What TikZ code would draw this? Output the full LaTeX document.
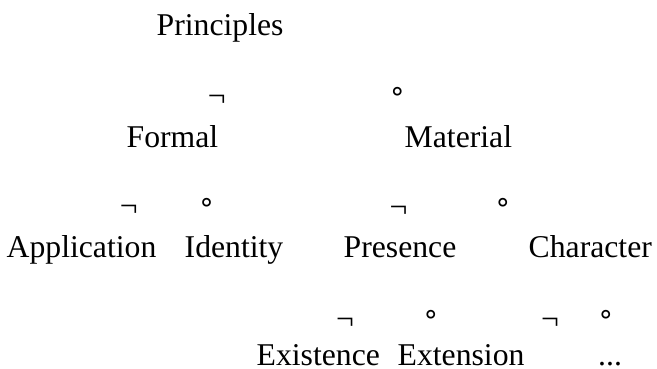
\documentclass[tikz,border=0pt]{standalone}
\usepackage{fontspec}
\setmainfont{Liberation Serif}
\newfontfamily\ringfont{DejaVu Sans}
\begin{document}
\begin{tikzpicture}[x=1pt,y=1pt,
  lbl/.style={anchor=base west,inner sep=0pt,font=\fontsize{31.7}{38}\selectfont},
  sym/.style={anchor=north,inner sep=0pt,font=\fontsize{31.7}{38}\selectfont},
  ring/.style={anchor=north,inner sep=0pt,font=\ringfont\fontsize{28}{32}\selectfont}]
\useasboundingbox (0,0) rectangle (657,-369);
% labels
\node[lbl] (principles) at (156.5,-36) {Principles};
\node[lbl] (formal) at (126.5,-147) {Formal};
\node[lbl] (material) at (404.5,-147) {Material};
\node[lbl] (application) at (6.5,-257) {Application};
\node[lbl] (identity) at (184.5,-257) {Identity};
\node[lbl] (presence) at (343.5,-257) {Presence};
\node[lbl] (character) at (528.5,-257) {Character};
\node[lbl] (existence) at (256.5,-365.5) {Existence};
\node[lbl] (extension) at (397.5,-365.5) {Extension};
\node[lbl] (more) at (598,-365.5) {...};
% symbols
\node[sym] (n1) at (216.7,-95) {¬};
\node[ring] (c1) at (397.5,-87) {∘};
\node[sym] (n2) at (128.7,-205) {¬};
\node[ring] (c2) at (206.7,-198) {∘};
\node[sym] (n3) at (398.5,-206) {¬};
\node[ring] (c3) at (503,-198) {∘};
\node[sym] (n4) at (345,-318) {¬};
\node[ring] (c4) at (431,-310) {∘};
\node[sym] (n5) at (550,-318) {¬};
\node[ring] (c5) at (606,-310) {∘};
\end{tikzpicture}
\end{document}
